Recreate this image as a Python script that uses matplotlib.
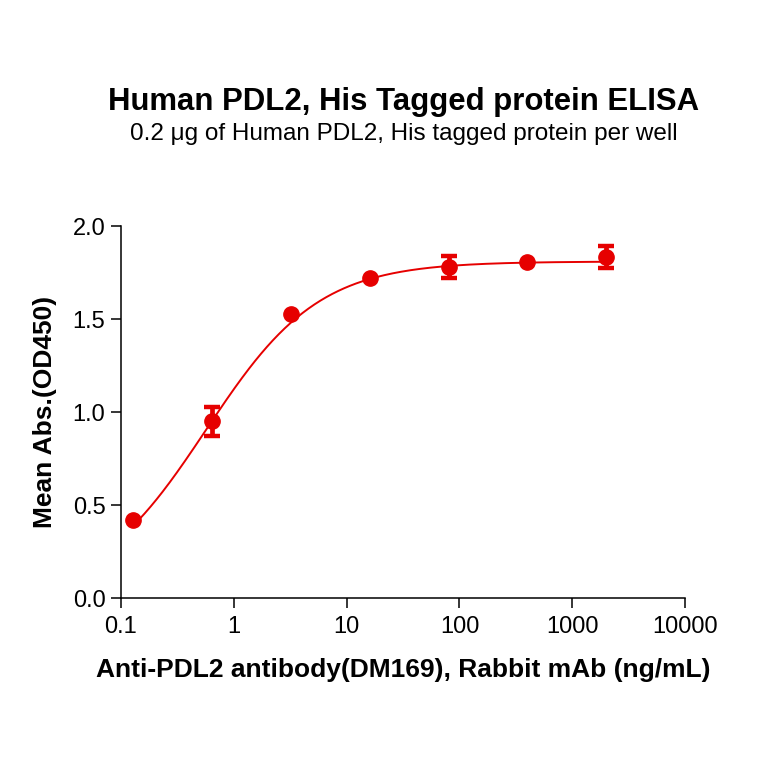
import numpy as np
import matplotlib
matplotlib.use("Agg")
import matplotlib.pyplot as plt
from matplotlib.ticker import FixedLocator, FixedFormatter, NullLocator

conc = [0.128, 0.64, 3.2, 16, 80, 400, 2000]
od = [0.42, 0.95, 1.527, 1.72, 1.78, 1.806, 1.833]
err = [0.0, 0.08, 0.0, 0.0, 0.06, 0.0, 0.06]

# 4PL fit parameters (bottom, top, EC50, hill)
bottom, top, ec50, hill = 0.0, 1.81, 0.57, 0.87

xticks = [0.1, 1, 10, 100, 1000, 10000]
xticklabels = ["0.1", "1", "10", "100", "1000", "10000"]
yticks = [0.0, 0.5, 1.0, 1.5, 2.0]
yticklabels = ["0.0", "0.5", "1.0", "1.5", "2.0"]

plt.rcParams['font.family'] = ['Liberation Sans', 'DejaVu Sans']
red = '#E60000'

fig = plt.figure(figsize=(7.64, 7.64), dpi=100)
ax = fig.add_axes([0.158, 0.217, 0.739, 0.487])

xs = np.logspace(np.log10(conc[0]), np.log10(conc[-1]), 400)
ys = bottom + (top - bottom) / (1 + (ec50 / xs) ** hill)
ax.plot(xs, ys, color=red, lw=1.4, zorder=2)

ax.plot(conc, od, 'o', color=red, ms=11, zorder=3)
ex = [c for c, e in zip(conc, err) if e > 0]
ey = [o for o, e in zip(od, err) if e > 0]
ee = [e for e in err if e > 0]
ax.errorbar(ex, ey, yerr=ee, fmt='none', ecolor=red, elinewidth=3.4,
            capsize=5.6, capthick=3.2, zorder=3)

ax.set_xscale('log')
ax.set_xlim(0.1, 10000)
ax.set_ylim(0, 2.0)
ax.xaxis.set_major_locator(FixedLocator(xticks))
ax.xaxis.set_major_formatter(FixedFormatter(xticklabels))
ax.xaxis.set_minor_locator(NullLocator())
ax.yaxis.set_major_locator(FixedLocator(yticks))
ax.yaxis.set_major_formatter(FixedFormatter(yticklabels))
ax.spines['top'].set_visible(False)
ax.spines['right'].set_visible(False)
for s in ['left', 'bottom']:
    ax.spines[s].set_linewidth(1.1)
ax.tick_params(axis='both', length=7, width=1.1, labelsize=17)
ax.tick_params(axis='x', pad=6)
ax.tick_params(axis='y', pad=4)

ax.set_xlabel("Anti-PDL2 antibody(DM169), Rabbit mAb (ng/mL)", fontsize=19,
              fontweight='bold', labelpad=14)
ax.set_ylabel("Mean Abs.(OD450)", fontsize=19, fontweight='bold', labelpad=11)

fig.text(0.528, 0.867, "Human PDL2, His Tagged protein ELISA", ha='center', va='center',
         fontsize=22.4, fontweight='bold')
fig.text(0.529, 0.824, "0.2 \u03bcg of Human PDL2, His tagged protein per well", ha='center',
         va='center', fontsize=17.5)

fig.savefig("out.png", dpi=100)
